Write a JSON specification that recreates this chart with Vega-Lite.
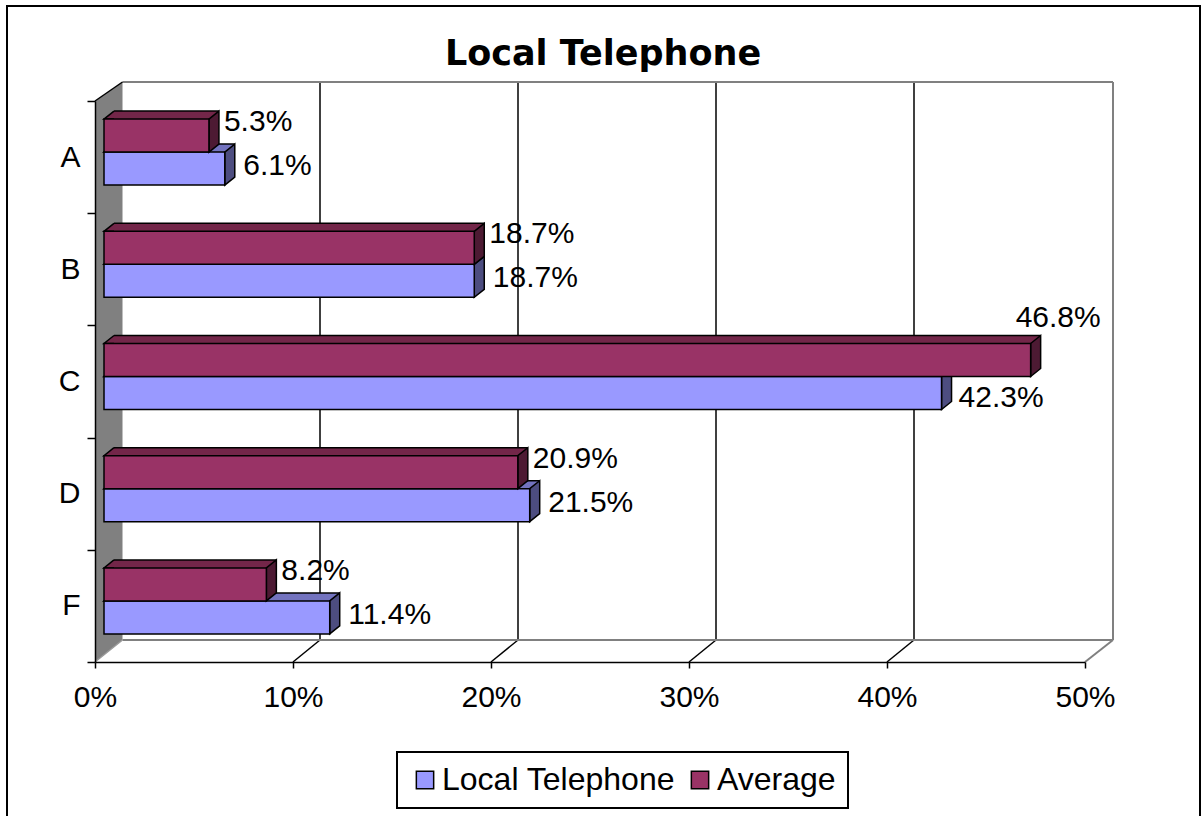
{
  "$schema": "https://vega.github.io/schema/vega-lite/v6.json",
  "width": 990,
  "height": 561,
  "autosize": {"type": "none"},
  "padding": {"left": 95, "top": 101, "right": 119, "bottom": 154},
  "background": "white",
  "config": {"view": {"stroke": null}, "font": "Liberation Sans", "legend": {"strokeWidth": 2}},
  "title": {"text": "Local Telephone", "font": "DejaVu Sans", "fontSize": 35, "fontWeight": "bold", "color": "black", "anchor": "middle", "dx": 13, "offset": -95, "baseline": "alphabetic"},
  "datasets": {
    "bars": [
      {"cat": "A", "series": "Local Telephone", "v": 0.061},
      {"cat": "A", "series": "Average", "v": 0.053},
      {"cat": "B", "series": "Local Telephone", "v": 0.187},
      {"cat": "B", "series": "Average", "v": 0.187},
      {"cat": "C", "series": "Local Telephone", "v": 0.423},
      {"cat": "C", "series": "Average", "v": 0.468},
      {"cat": "D", "series": "Local Telephone", "v": 0.215},
      {"cat": "D", "series": "Average", "v": 0.209},
      {"cat": "F", "series": "Local Telephone", "v": 0.114},
      {"cat": "F", "series": "Average", "v": 0.082}
    ],
    "grid": [{"v": 0.1}, {"v": 0.2}, {"v": 0.3}, {"v": 0.4}],
    "one": [{"k": 1}]
  },
  "layer": [
    {
      "data": {"name": "one"},
      "mark": {"type": "rect", "fillOpacity": 0, "stroke": "black", "strokeWidth": 2, "xOffset": -88, "x2Offset": 115, "yOffset": -95, "y2Offset": 170},
      "encoding": {
        "x": {"datum": 0, "type": "quantitative", "scale": {"domain": [0, 0.5], "nice": false, "zero": true}},
        "x2": {"datum": 0.5},
        "y": {"datum": "A", "type": "nominal", "bandPosition": 0, "scale": {"domain": ["A", "B", "C", "D", "F"], "paddingInner": 0, "paddingOuter": 0}},
        "y2": {"datum": "F", "bandPosition": 1}
      }
    },
    {
      "data": {"name": "one"},
      "mark": {"type": "point", "shape": "M0,0 L27.5,-19 L27.5,539 L0,561 Z", "size": 4, "filled": true, "fill": "#808080", "stroke": null, "opacity": 1},
      "encoding": {
        "x": {"datum": 0, "type": "quantitative"},
        "y": {"datum": "A", "type": "nominal", "bandPosition": 0}
      }
    },
    {
      "data": {"name": "grid"},
      "mark": {"type": "rule", "color": "black", "strokeWidth": 1.5, "xOffset": 27, "yOffset": -19, "y2Offset": -22},
      "encoding": {
        "x": {"field": "v", "type": "quantitative", "title": null},
        "y": {"datum": "A", "type": "nominal", "bandPosition": 0},
        "y2": {"datum": "F", "bandPosition": 1}
      }
    },
    {
      "data": {"name": "grid"},
      "mark": {"type": "rule", "color": "black", "strokeWidth": 1.5, "x2Offset": 27, "y2Offset": -22},
      "encoding": {
        "x": {"field": "v", "type": "quantitative", "title": null},
        "x2": {"field": "v"},
        "y": {"datum": "F", "type": "nominal", "bandPosition": 1},
        "y2": {"datum": "F", "bandPosition": 1}
      }
    },
    {
      "data": {"name": "one"},
      "mark": {"type": "rule", "color": "#808080", "strokeWidth": 2, "xOffset": 27.5, "x2Offset": 28, "yOffset": -19},
      "encoding": {
        "x": {"datum": 0, "type": "quantitative"},
        "x2": {"datum": 0.5},
        "y": {"datum": "A", "type": "nominal", "bandPosition": 0}
      }
    },
    {
      "data": {"name": "one"},
      "mark": {"type": "rule", "color": "#808080", "strokeWidth": 2, "xOffset": 27.5, "x2Offset": 28, "yOffset": -22},
      "encoding": {
        "x": {"datum": 0, "type": "quantitative"},
        "x2": {"datum": 0.5},
        "y": {"datum": "F", "type": "nominal", "bandPosition": 1}
      }
    },
    {
      "data": {"name": "one"},
      "mark": {"type": "rule", "color": "#808080", "strokeWidth": 2, "xOffset": 28, "yOffset": -19, "y2Offset": -22},
      "encoding": {
        "x": {"datum": 0.5, "type": "quantitative"},
        "y": {"datum": "A", "type": "nominal", "bandPosition": 0},
        "y2": {"datum": "F", "bandPosition": 1}
      }
    },
    {
      "data": {"name": "one"},
      "mark": {"type": "rule", "color": "#808080", "strokeWidth": 2, "x2Offset": 28, "y2Offset": -22},
      "encoding": {
        "x": {"datum": 0.5, "type": "quantitative"},
        "x2": {"datum": 0.5},
        "y": {"datum": "F", "type": "nominal", "bandPosition": 1},
        "y2": {"datum": "F", "bandPosition": 1}
      }
    },
    {
      "data": {"name": "one"},
      "mark": {"type": "rule", "color": "#9a9a9a", "strokeWidth": 1.5, "x2Offset": 27.5, "y2Offset": -22},
      "encoding": {
        "x": {"datum": 0, "type": "quantitative"},
        "x2": {"datum": 0},
        "y": {"datum": "F", "type": "nominal", "bandPosition": 1},
        "y2": {"datum": "F", "bandPosition": 1}
      }
    },
    {
      "data": {"name": "one"},
      "mark": {"type": "rule", "color": "black", "strokeWidth": 1.5, "x2Offset": 27.5, "y2Offset": -19},
      "encoding": {
        "x": {"datum": 0, "type": "quantitative"},
        "x2": {"datum": 0},
        "y": {"datum": "A", "type": "nominal", "bandPosition": 0},
        "y2": {"datum": "A", "bandPosition": 0}
      }
    },
    {
      "data": {"name": "bars"},
      "transform": [{"filter": "datum.series === 'Local Telephone'"}],
      "layer": [
        {
          "mark": {"type": "bar", "height": 8, "yOffset": -9, "xOffset": 19, "x2Offset": 19, "fill": "#7373BF", "stroke": null},
          "encoding": {"x": {"field": "v", "type": "quantitative", "title": null}, "y": {"field": "cat", "type": "nominal", "title": null}}
        },
        {
          "mark": {"type": "point", "shape": "M10,0 L0,0 L10,-8", "size": 4, "filled": true, "fill": "#7373BF", "stroke": "black", "strokeWidth": 1.5, "opacity": 1, "xOffset": 9, "yOffset": -5},
          "encoding": {"x": {"datum": 0, "type": "quantitative"}, "y": {"field": "cat", "type": "nominal", "title": null, "bandPosition": 0.5}}
        },
        {
          "mark": {"type": "point", "shape": "M0,0 L10,-8 L10,25 L0,33 Z", "size": 4, "filled": true, "fill": "#4D4D80", "stroke": "black", "strokeWidth": 1.5, "opacity": 1, "xOffset": 9, "yOffset": -5},
          "encoding": {"x": {"field": "v", "type": "quantitative", "title": null}, "y": {"field": "cat", "type": "nominal", "title": null, "bandPosition": 0.5}}
        },
        {
          "mark": {"type": "bar", "height": 33, "yOffset": 11.5, "xOffset": 9, "x2Offset": 9, "stroke": "black", "strokeWidth": 1.5, "opacity": 1},
          "encoding": {
            "x": {"field": "v", "type": "quantitative", "title": null, "axis": {"title": null, "values": [0, 0.1, 0.2, 0.3, 0.4, 0.5], "format": ".0%", "grid": false, "tickSize": 6, "tickColor": "black", "tickWidth": 1.5, "domainColor": "black", "domainWidth": 1.5, "labelFontSize": 30, "labelColor": "black", "labelPadding": 14, "labelFont": "Liberation Sans", "zindex": 1, "labelFlush": false, "labelOverlap": false}},
            "y": {"field": "cat", "type": "nominal", "title": null, "axis": {"title": null, "tickBand": "extent", "tickSize": 8, "tickColor": "black", "tickWidth": 1.5, "domainColor": "black", "domainWidth": 1.5, "labelFontSize": 30, "labelColor": "black", "labelPadding": 7, "labelFont": "Liberation Sans", "zindex": 1, "labelAngle": 0}},
            "color": {"field": "series", "type": "nominal", "scale": {"domain": ["Local Telephone", "Average"], "range": ["#9999FF", "#993366"]}, "legend": {"title": null, "orient": "none", "legendX": 302, "legendY": 651, "direction": "horizontal", "symbolType": "square", "symbolSize": 300, "symbolStrokeColor": "black", "symbolStrokeWidth": 1.5, "symbolOpacity": 1, "labelFontSize": 32, "labelFont": "Liberation Sans", "labelColor": "black", "labelOffset": 1, "columnPadding": 8, "padding": 12, "strokeColor": "black", "fillColor": "white", "labelLimit": 500}}
          }
        },
        {
          "mark": {"type": "rule", "color": "black", "strokeWidth": 1.5, "xOffset": 19, "x2Offset": 19, "yOffset": -13},
          "encoding": {"x": {"field": "v", "type": "quantitative", "title": null}, "x2": {"datum": 0}, "y": {"field": "cat", "type": "nominal", "title": null, "bandPosition": 0.5}}
        }
      ]
    },
    {
      "data": {"name": "bars"},
      "transform": [{"filter": "datum.series === 'Average'"}],
      "layer": [
        {
          "mark": {"type": "bar", "height": 8, "yOffset": -42, "xOffset": 19, "x2Offset": 19, "fill": "#732649", "stroke": null},
          "encoding": {"x": {"field": "v", "type": "quantitative", "title": null}, "y": {"field": "cat", "type": "nominal", "title": null}}
        },
        {
          "mark": {"type": "point", "shape": "M10,0 L0,0 L10,-8", "size": 4, "filled": true, "fill": "#732649", "stroke": "black", "strokeWidth": 1.5, "opacity": 1, "xOffset": 9, "yOffset": -38},
          "encoding": {"x": {"datum": 0, "type": "quantitative"}, "y": {"field": "cat", "type": "nominal", "title": null, "bandPosition": 0.5}}
        },
        {
          "mark": {"type": "point", "shape": "M0,0 L10,-8 L10,25 L0,33 Z", "size": 4, "filled": true, "fill": "#4D1A33", "stroke": "black", "strokeWidth": 1.5, "opacity": 1, "xOffset": 9, "yOffset": -38},
          "encoding": {"x": {"field": "v", "type": "quantitative", "title": null}, "y": {"field": "cat", "type": "nominal", "title": null, "bandPosition": 0.5}}
        },
        {
          "mark": {"type": "bar", "height": 33, "yOffset": -21.5, "xOffset": 9, "x2Offset": 9, "stroke": "black", "strokeWidth": 1.5, "opacity": 1},
          "encoding": {
            "x": {"field": "v", "type": "quantitative", "title": null},
            "y": {"field": "cat", "type": "nominal", "title": null},
            "color": {"field": "series", "type": "nominal"}
          }
        },
        {
          "mark": {"type": "rule", "color": "black", "strokeWidth": 1.5, "xOffset": 19, "x2Offset": 19, "yOffset": -46},
          "encoding": {"x": {"field": "v", "type": "quantitative", "title": null}, "x2": {"datum": 0}, "y": {"field": "cat", "type": "nominal", "title": null, "bandPosition": 0.5}}
        }
      ]
    },
    {
      "data": {"name": "bars"},
      "transform": [{"filter": "datum.series === 'Local Telephone' && datum.cat !== 'C'"}],
      "mark": {"type": "text", "align": "left", "baseline": "middle", "fontSize": 30, "font": "Liberation Sans", "color": "black", "xOffset": 27.5, "yOffset": 9},
      "encoding": {"x": {"field": "v", "type": "quantitative", "title": null}, "y": {"field": "cat", "type": "nominal", "title": null, "bandPosition": 0.5}, "text": {"field": "v", "format": ".1%"}}
    },
    {
      "data": {"name": "bars"},
      "transform": [{"filter": "datum.series === 'Average' && datum.cat !== 'C'"}],
      "mark": {"type": "text", "align": "left", "baseline": "middle", "fontSize": 30, "font": "Liberation Sans", "color": "black", "xOffset": 24, "yOffset": -35},
      "encoding": {"x": {"field": "v", "type": "quantitative", "title": null}, "y": {"field": "cat", "type": "nominal", "title": null, "bandPosition": 0.5}, "text": {"field": "v", "format": ".1%"}}
    },
    {
      "data": {"name": "bars"},
      "transform": [{"filter": "datum.series === 'Local Telephone' && datum.cat === 'C'"}],
      "mark": {"type": "text", "align": "left", "baseline": "middle", "fontSize": 30, "font": "Liberation Sans", "color": "black", "xOffset": 26, "yOffset": 16},
      "encoding": {"x": {"field": "v", "type": "quantitative", "title": null}, "y": {"field": "cat", "type": "nominal", "title": null, "bandPosition": 0.5}, "text": {"field": "v", "format": ".1%"}}
    },
    {
      "data": {"name": "bars"},
      "transform": [{"filter": "datum.series === 'Average' && datum.cat === 'C'"}],
      "mark": {"type": "text", "align": "left", "baseline": "middle", "fontSize": 30, "font": "Liberation Sans", "color": "black", "xOffset": -6, "yOffset": -64},
      "encoding": {"x": {"field": "v", "type": "quantitative", "title": null}, "y": {"field": "cat", "type": "nominal", "title": null, "bandPosition": 0.5}, "text": {"field": "v", "format": ".1%"}}
    }
  ]
}
